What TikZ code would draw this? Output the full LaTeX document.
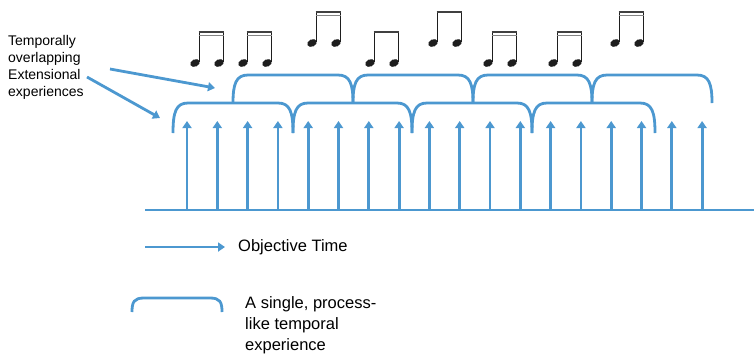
\documentclass[tikz,border=0pt]{standalone}
\usepackage{fontspec}
\setmainfont{Liberation Sans}
\usetikzlibrary{arrows.meta, positioning}
\definecolor{timeblue}{RGB}{76,152,208}
\definecolor{noteink}{RGB}{30,30,30}

\begin{document}
\begin{tikzpicture}[
    x=1pt, y=-1pt,
    >={Triangle[length=7pt, width=9pt]},
    tick/.style={timeblue, line width=2.8pt, ->},
    span/.style={timeblue, line width=2.8pt},
    txt/.style={align=left, inner sep=0pt, anchor=west}
  ]
  \useasboundingbox (0,0) rectangle (754,357);

  % Objective time: base line and the instants on it
  \coordinate (tstart) at (145,210);
  \coordinate (tend) at (754,210);
  \draw[span] (tstart) -- (tend);
  \foreach \i in {0,...,17} {
    \coordinate (b\i) at (187+30.3*\i, 210);
    \coordinate (t\i) at (187+30.3*\i, 121);
    \draw[tick] (b\i) -- (t\i);
  }

  % Lower row of experiences
  \foreach \a/\b in {173/293, 293/412, 412/532, 532/655} {
    \draw[span] (\a,133) .. controls (\a,112) and (\a+3,103) .. (\a+15,103)
      -- (\b-15,103) .. controls (\b-3,103) and (\b,112) .. (\b,133);
  }
  % Upper row, shifted by half a span
  \foreach \a/\b in {233/353, 353/473, 473/592, 592/712} {
    \draw[span] (\a,103) .. controls (\a,84) and (\a+3,75) .. (\a+15,75)
      -- (\b-15,75) .. controls (\b-3,75) and (\b,84) .. (\b,103);
  }

  % Notes: first head x / head y / beams
  \foreach \x/\y/\n in {195/63/2, 243/63/2, 312/43/2, 370/63/1,
                        433/43/1, 488/63/2, 553/63/2, 615/43/2} {
    \fill[noteink, shift={(\x,\y)}, rotate=25] (0,0) ellipse (5 and 3.6);
    \fill[noteink, shift={(\x+24,\y)}, rotate=25] (0,0) ellipse (5 and 3.6);
    \draw[noteink, line width=1.4pt] (\x+4.2,\y-1) -- (\x+4.2,\y-32);
    \draw[noteink, line width=1.4pt] (\x+28.2,\y-1) -- (\x+28.2,\y-32);
    \draw[noteink!85, line width=2.6pt] (\x+3.5,\y-31) -- (\x+28.9,\y-31);
    \ifnum\n=2
      \draw[noteink!55, line width=1.8pt] (\x+3.5,\y-27.5) -- (\x+28.9,\y-27.5);
    \fi
  }

  % Annotation
  \node[txt, font=\fontsize{14}{17}\selectfont] (overlap) at (8,67)
    {Temporally\\overlapping\\Extensional\\experiences};
  \coordinate (from1) at (110,69);
  \coordinate (from2) at (87,77);
  \coordinate (upper) at (215,88);
  \coordinate (lower) at (160,118);
  \draw[tick] (from1) -- (upper);
  \draw[tick] (from2) -- (lower);

  % Legend
  \coordinate (lstart) at (145,247);
  \coordinate (lend) at (225,247);
  \draw[tick] (lstart) -- (lend);
  \node[txt, font=\fontsize{16.5}{21}\selectfont] (objtime) at (238,247)
    {Objective Time};
  \draw[span] (132,312) .. controls (132,302) and (134,298) .. (144,298)
    -- (210,298) .. controls (220,298) and (222,302) .. (222,312);
  \node[txt, font=\fontsize{16.5}{21}\selectfont] (single) at (245,325)
    {A single, process-\\like temporal\\experience};
\end{tikzpicture}
\end{document}
